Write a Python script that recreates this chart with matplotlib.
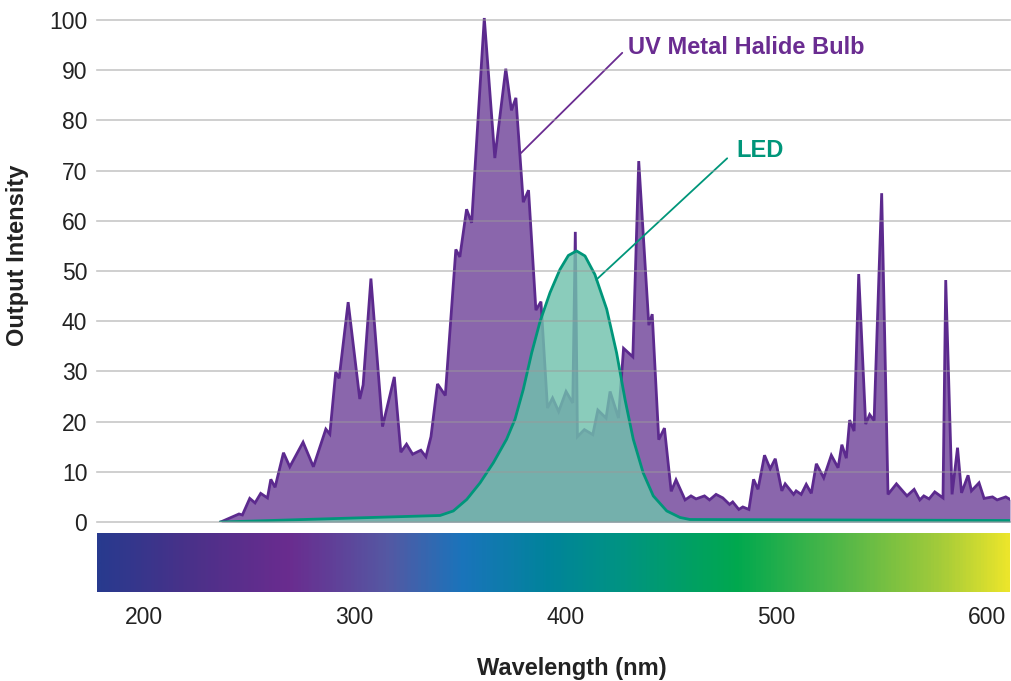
import numpy as np
import matplotlib
matplotlib.use("Agg")
import matplotlib.pyplot as plt
from matplotlib.colors import LinearSegmentedColormap

plt.rcParams['font.family'] = ['Liberation Sans', 'DejaVu Sans']

# metal halide bulb spectrum (wavelength nm, relative output)
bulb_nm = [236.4, 245.1, 246.7, 250.2, 252.7, 255.4, 258.6, 260.2, 262.2, 266.2,
           269.2, 275.5, 280.4, 286.3, 288.2, 291.0, 292.6, 296.9, 302.4, 304.0,
           307.7, 313.2, 318.8, 321.9, 324.6, 327.5, 331.4, 333.8, 336.2, 339.3,
           343.0, 348.0, 349.9, 353.1, 355.5, 361.5, 366.5, 371.7, 374.4, 376.5,
           380.0, 382.5, 386.0, 388.4, 391.5, 393.9, 396.8, 400.3, 403.5, 404.7,
           405.7, 409.0, 413.0, 415.4, 419.3, 421.2, 425.2, 427.6, 432.0, 434.8,
           439.6, 441.2, 444.3, 447.0, 450.2, 452.5, 456.8, 459.6, 462.0, 466.0,
           468.4, 471.5, 474.7, 477.9, 479.4, 482.3, 484.2, 487.1, 489.3, 491.4,
           494.5, 497.2, 499.6, 502.7, 504.3, 508.3, 509.5, 511.9, 514.3, 516.7,
           519.1, 522.6, 526.2, 529.4, 531.2, 533.3, 534.9, 537.0, 539.2, 542.5,
           544.4, 546.5, 550.1, 553.1, 557.1, 562.1, 565.5, 568.2, 570.1, 572.6,
           575.3, 579.2, 580.5, 583.5, 586.1, 588.0, 591.1, 592.7, 596.3, 598.7,
           602.7, 604.9, 609.0, 611.0]
bulb_val = [0.0, 1.6, 1.4, 4.7, 3.8, 5.7, 4.8, 8.5, 6.9, 13.8,
            11.0, 15.9, 11.0, 18.5, 17.5, 29.9, 28.6, 43.8, 24.5, 27.3,
            48.5, 19.0, 28.9, 13.9, 15.5, 13.5, 14.3, 13.0, 17.0, 27.5,
            25.2, 54.3, 52.8, 62.3, 59.6, 100.4, 72.5, 90.3, 82.0, 84.5,
            63.7, 66.1, 42.2, 43.9, 22.7, 24.7, 22.0, 26.0, 23.7, 57.8,
            17.0, 18.4, 17.4, 22.3, 20.7, 26.0, 20.7, 34.6, 32.9, 71.9,
            39.2, 41.4, 16.4, 18.7, 6.1, 8.4, 4.4, 5.2, 4.6, 5.2,
            4.4, 5.5, 4.8, 3.5, 4.0, 2.5, 3.0, 2.5, 8.5, 6.5,
            13.3, 10.6, 12.6, 6.2, 7.6, 5.5, 6.2, 5.5, 7.5, 5.7,
            11.6, 8.8, 13.3, 10.8, 15.4, 12.7, 20.3, 18.1, 49.4, 19.5,
            21.4, 20.2, 65.5, 5.5, 7.6, 5.2, 6.5, 4.4, 5.2, 4.6,
            6.0, 4.8, 48.2, 5.5, 14.8, 5.8, 9.3, 6.2, 7.8, 4.7,
            5.0, 4.4, 5.0, 4.5]

# LED spectrum
led_nm = [236.4, 300.0, 340.5, 346.8, 353.2, 359.5, 365.8, 372.1, 376.1, 380.0,
          384.0, 388.0, 392.7, 397.4, 401.4, 405.3, 409.3, 414.0, 419.6, 424.3,
          428.3, 432.2, 436.9, 441.7, 448.1, 454.4, 459.1, 611.0]
led_val = [0.0, 0.8, 1.3, 2.2, 4.5, 7.8, 11.8, 16.5, 20.5, 26.4,
           33.7, 40.0, 45.7, 50.3, 53.1, 54.0, 53.0, 49.3, 42.4, 33.7,
           24.4, 16.5, 9.8, 5.2, 2.2, 0.9, 0.5, 0.3]

yticks = [0, 10, 20, 30, 40, 50, 60, 70, 80, 90, 100]
xticks = [200, 300, 400, 500, 600]

# colours of the wavelength strip
strip_nm = [177.7, 220.7, 267.8, 315.0, 351.0, 392.7, 426.0, 481.5, 536.8, 578.6, 611.0]
strip_col = ['#283a8e', '#4a3189', '#6a2c8f', '#5558a3', '#1a74bb', '#00849a',
             '#009383', '#00a84f', '#5bb947', '#a3cb3a', '#ebe52b']

XMIN, XMAX = 177.7, 611.0
W, H = 1011, 681

fig = plt.figure(figsize=(W / 100, H / 100), dpi=100)
ax = fig.add_axes([97 / W, (H - 522) / H, 913 / W, 512 / H])
ax.set_xlim(XMIN, XMAX)
ax.set_ylim(0, 102)

purple_line = '#5c2a8e'
purple_fill = '#8a66ac'
led_line = '#00967a'
led_fill = '#70c1ac'

ax.fill_between(bulb_nm, bulb_val, 0, color=purple_fill, lw=0, zorder=2)
ax.plot(bulb_nm, bulb_val, color=purple_line, lw=2, zorder=3, solid_joinstyle='miter')
ax.fill_between(led_nm, led_val, 0, color=led_fill, alpha=0.82, lw=0, zorder=4)
ax.plot(led_nm, led_val, color=led_line, lw=2, zorder=5)

for yv in yticks:
    ax.axhline(yv, color='#9a9a9a', lw=1.2, alpha=0.55, zorder=6, clip_on=False)

ax.set_yticks(yticks)
ax.set_xticks([])
ax.tick_params(axis='y', length=0, pad=7, labelsize=16.5, labelcolor='#222222')
for s in ax.spines.values():
    s.set_visible(False)

# annotations
ax.annotate('UV Metal Halide Bulb', xy=(378.9, 73.5), xytext=(429.7, 94.6),
            color='#6a2c91', fontsize=17, fontweight='bold', va='center', ha='left',
            arrowprops=dict(arrowstyle='-', color='#6a2c91', lw=1.3, shrinkA=3, shrinkB=0,
                            relpos=(0, 0.5)))
ax.annotate('LED', xy=(414.5, 48.2), xytext=(481.0, 74.1),
            color=led_line, fontsize=17, fontweight='bold', va='center', ha='left',
            arrowprops=dict(arrowstyle='-', color=led_line, lw=1.3, shrinkA=6, shrinkB=0,
                            relpos=(0, 0.5)))

# wavelength colour strip
cax = fig.add_axes([97 / W, (H - 592) / H, 913 / W, 59 / H])
pos = [(v - XMIN) / (XMAX - XMIN) for v in strip_nm]
cmap = LinearSegmentedColormap.from_list('spec', list(zip(pos, strip_col)))
grad = np.linspace(0, 1, 600).reshape(1, -1)
cax.imshow(grad, aspect='auto', cmap=cmap, extent=(XMIN, XMAX, 0, 1))
cax.set_xlim(XMIN, XMAX)
cax.set_yticks([])
cax.set_xticks(xticks)
cax.tick_params(axis='x', length=0, pad=10, labelsize=16.5, labelcolor='#222222')
for s in cax.spines.values():
    s.set_visible(False)

fig.text(572 / W, 1 - 668 / H, 'Wavelength (nm)', fontsize=17, fontweight='bold',
         ha='center', va='center', color='#222222')
fig.text(18 / W, 1 - 255 / H, 'Output Intensity', fontsize=17, fontweight='bold',
         rotation=90, ha='center', va='center', color='#222222')

fig.savefig('out.png', dpi=100)
